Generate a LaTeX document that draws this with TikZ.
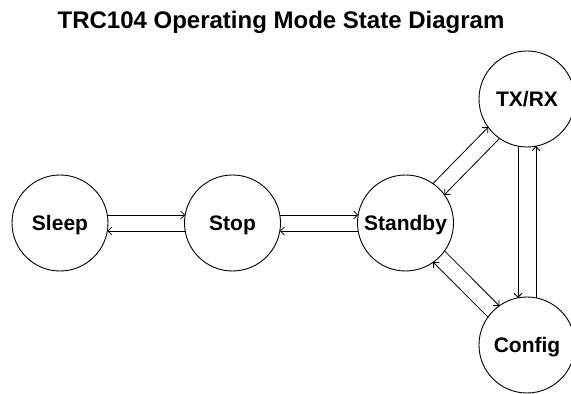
\documentclass[tikz,border=0pt]{standalone}
\usepackage{fontspec}
\setmainfont{Liberation Sans}
\usetikzlibrary{calc,arrows.meta}
\begin{document}
\begin{tikzpicture}[x=1pt,y=1pt,
  state/.style={circle, draw, line width=0.9pt, minimum size=96pt, inner sep=0pt, outer sep=0pt,
    font=\fontsize{21}{25}\selectfont\bfseries, text height=15pt, text depth=0pt},
  arr/.style={-{Straight Barb[length=4pt,width=8pt]}, line width=0.8pt, shorten <=47.3pt, shorten >=47.3pt},
  varr/.style={arr, shorten <=47.15pt, shorten >=47.15pt},
  ttl/.style={font=\fontsize{24}{28}\selectfont\bfseries, inner sep=0pt}]
\useasboundingbox (0,0) rectangle (571,394);
\clip (0,0) rectangle (571,394);
\node[ttl, anchor=base] (title) at (281,365) {TRC104 Operating Mode State Diagram};
\node[state] (sleep) at (60,171) {Sleep};
\node[state] (stop) at (232.5,171) {Stop};
\node[state] (standby) at (405.5,171) {Standby};
\node[state] (txrx) at (527,295) {TX/RX};
\node[state] (config) at (527,49) {Config};
% Sleep <-> Stop
\draw[arr] ($(sleep)!8pt!90:(stop)$) -- ($(stop)!8pt!-90:(sleep)$);
\draw[arr] ($(stop)!8pt!90:(sleep)$) -- ($(sleep)!8pt!-90:(stop)$);
% Stop <-> Standby
\draw[arr] ($(stop)!8pt!90:(standby)$) -- ($(standby)!8pt!-90:(stop)$);
\draw[arr] ($(standby)!8pt!90:(stop)$) -- ($(stop)!8pt!-90:(standby)$);
% Standby <-> TX/RX
\draw[arr] ($(standby)!8pt!90:(txrx)$) -- ($(txrx)!8pt!-90:(standby)$);
\draw[arr] ($(txrx)!8pt!90:(standby)$) -- ($(standby)!8pt!-90:(txrx)$);
% Standby <-> Config
\draw[arr] ($(standby)!8pt!90:(config)$) -- ($(config)!8pt!-90:(standby)$);
\draw[arr] ($(config)!8pt!90:(standby)$) -- ($(standby)!8pt!-90:(config)$);
% TX/RX <-> Config
\draw[varr] ($(txrx)!9pt!-90:(config)$) -- ($(config)!9pt!90:(txrx)$);
\draw[varr] ($(config)!9pt!-90:(txrx)$) -- ($(txrx)!9pt!90:(config)$);
\end{tikzpicture}
\end{document}
